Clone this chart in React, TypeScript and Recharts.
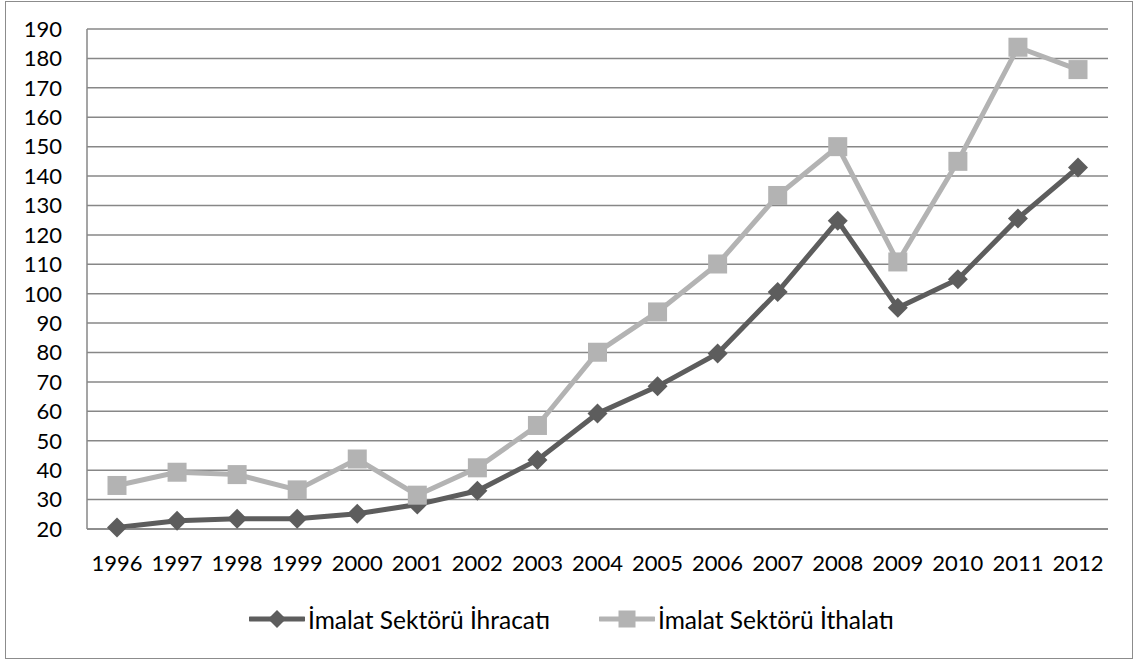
import React from "react";
import { CartesianGrid, Legend, Line, LineChart, XAxis, YAxis } from "recharts";

const years = [
  "1996", "1997", "1998", "1999", "2000", "2001", "2002", "2003", "2004",
  "2005", "2006", "2007", "2008", "2009", "2010", "2011", "2012",
];
const ihracat = [
  20.5, 22.8, 23.5, 23.5, 25.2, 28.3, 33, 43.5, 59.3, 68.5, 79.7, 100.6, 124.8,
  95.2, 104.9, 125.6, 142.9,
];
const ithalat = [
  34.8, 39.3, 38.5, 33.3, 43.8, 31.5, 40.8, 55.2, 80.1, 93.8, 110.1, 133.4, 150,
  110.8, 145, 183.8, 176.2,
];
const yTicks = [20, 30, 40, 50, 60, 70, 80, 90, 100, 110, 120, 130, 140, 150, 160, 170, 180, 190];

const DARK = "#5d5d5d";
const LIGHT = "#b3b3b3";
const GRID = "#878787";
const FONT = "Lato, 'Open Sans', sans-serif";
const TICK = { fill: "#000", fontSize: 22, fontFamily: FONT };

const data = years.map((y, i) => ({ year: y, ihracat: ihracat[i], ithalat: ithalat[i] }));

function Diamond({ cx, cy, r = 10, color }: { cx?: number; cy?: number; r?: number; color: string }) {
  if (cx == null || cy == null) return null;
  return (
    <path
      d={`M${cx},${cy - r} L${cx + r},${cy} L${cx},${cy + r} L${cx - r},${cy} Z`}
      fill={color}
    />
  );
}

function Square({ cx, cy, s = 19, color }: { cx?: number; cy?: number; s?: number; color: string }) {
  if (cx == null || cy == null) return null;
  return <rect x={cx - s / 2} y={cy - s / 2} width={s} height={s} fill={color} />;
}

function LegendIcon({ kind, color }: { kind: "diamond" | "square"; color: string }) {
  return (
    <svg width={56} height={24} style={{ display: "block" }}>
      <line x1={1} y1={12} x2={55} y2={12} stroke={color} strokeWidth={5} strokeLinecap="round" />
      {kind === "diamond" ? (
        <Diamond cx={28} cy={12} r={9} color={color} />
      ) : (
        <Square cx={28} cy={12} s={17} color={color} />
      )}
    </svg>
  );
}

function ChartLegend() {
  const items = [
    { kind: "diamond" as const, color: DARK, label: "İmalat Sektörü İhracatı" },
    { kind: "square" as const, color: LIGHT, label: "İmalat Sektörü İthalatı" },
  ];
  return (
    <div
      style={{
        display: "flex",
        alignItems: "center",
        gap: 49,
        paddingLeft: 249,
        height: 40,
        fontFamily: FONT,
        fontSize: 24.5,
        color: "#000",
      }}
    >
      {items.map((it) => (
        <span key={it.label} style={{ display: "flex", alignItems: "center", gap: 3 }}>
          <LegendIcon kind={it.kind} color={it.color} />
          {it.label}
        </span>
      ))}
    </div>
  );
}

export default function App() {
  return (
    <div
      style={{
        position: "fixed",
        left: 0,
        top: 0,
        width: 1137,
        height: 662,
        background: "#fff",
      }}
    >
      <div
        style={{
          position: "absolute",
          left: 5,
          top: 1,
          width: 1128,
          height: 658,
          border: "1.5px solid #8c8c8c",
          boxSizing: "border-box",
        }}
      />
      <LineChart
        width={1137}
        height={662}
        data={data}
        margin={{ top: 29, right: 29, left: 27, bottom: 63 }}
      >
        <CartesianGrid horizontal vertical={false} stroke={GRID} strokeWidth={1.5} />
        <XAxis
          dataKey="year"
          padding={{ left: 30, right: 30 }}
          stroke={GRID}
          strokeWidth={1.5}
          tickLine={false}
          tick={TICK}
          tickMargin={20}
          interval={0}
          height={30}
        />
        <YAxis
          domain={[20, 190]}
          ticks={yTicks}
          stroke={GRID}
          strokeWidth={1.5}
          tickLine={false}
          tick={TICK}
          tickMargin={19}
          width={60}
          interval={0}
        />
        <Legend
          verticalAlign="bottom"
          content={() => <ChartLegend />}
          wrapperStyle={{ top: 599, left: 0, bottom: "auto", width: 1137, height: 40 }}
        />
        <Line
          dataKey="ihracat"
          stroke={DARK}
          strokeWidth={5}
          isAnimationActive={false}
          dot={(p: any) => <Diamond key={`d${p.index}`} cx={p.cx} cy={p.cy} color={DARK} />}
          activeDot={false}
        />
        <Line
          dataKey="ithalat"
          stroke={LIGHT}
          strokeWidth={5}
          isAnimationActive={false}
          dot={(p: any) => <Square key={`s${p.index}`} cx={p.cx} cy={p.cy} color={LIGHT} />}
          activeDot={false}
        />
      </LineChart>
    </div>
  );
}
